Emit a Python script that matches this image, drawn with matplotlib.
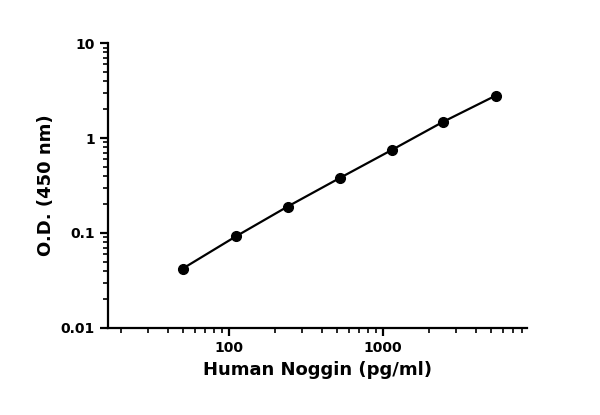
import matplotlib
matplotlib.use("Agg")
import matplotlib.pyplot as plt
from matplotlib.ticker import LogLocator, NullFormatter, FixedLocator

conc = [50, 111, 241, 526, 1144, 2455, 5400]
od = [0.042, 0.092, 0.19, 0.38, 0.75, 1.48, 2.8]

plt.rcParams["font.family"] = ["DejaVu Sans"]
plt.rcParams["font.weight"] = "bold"

fig = plt.figure(figsize=(6, 4.15), dpi=100)
ax = fig.add_axes([0.18, 0.21, 0.698, 0.686])
ax.plot(conc, od, color="black", lw=1.6, marker="o", ms=7)
ax.set_xscale("log")
ax.set_yscale("log")
ax.set_xlim(16.4, 8600)
ax.set_ylim(0.01, 10)

ax.xaxis.set_major_locator(FixedLocator([100, 1000]))
ax.set_xticklabels(["100", "1000"])
ax.xaxis.set_minor_locator(LogLocator(base=10, subs=range(2, 10)))
ax.xaxis.set_minor_formatter(NullFormatter())
ax.yaxis.set_major_locator(FixedLocator([0.01, 0.1, 1, 10]))
ax.set_yticklabels(["0.01", "0.1", "1", "10"])
ax.yaxis.set_minor_locator(LogLocator(base=10, subs=range(2, 10)))
ax.yaxis.set_minor_formatter(NullFormatter())

for s in ("top", "right"):
    ax.spines[s].set_visible(False)
for s in ("left", "bottom"):
    ax.spines[s].set_linewidth(1.6)
ax.tick_params(which="major", length=6, width=1.6, labelsize=10)
ax.tick_params(which="minor", length=3.5, width=1.2)

ax.set_xlabel("Human Noggin (pg/ml)", fontsize=13, fontweight="bold")
ax.set_ylabel("O.D. (450 nm)", fontsize=13, fontweight="bold")

fig.savefig("out.png", dpi=100)
